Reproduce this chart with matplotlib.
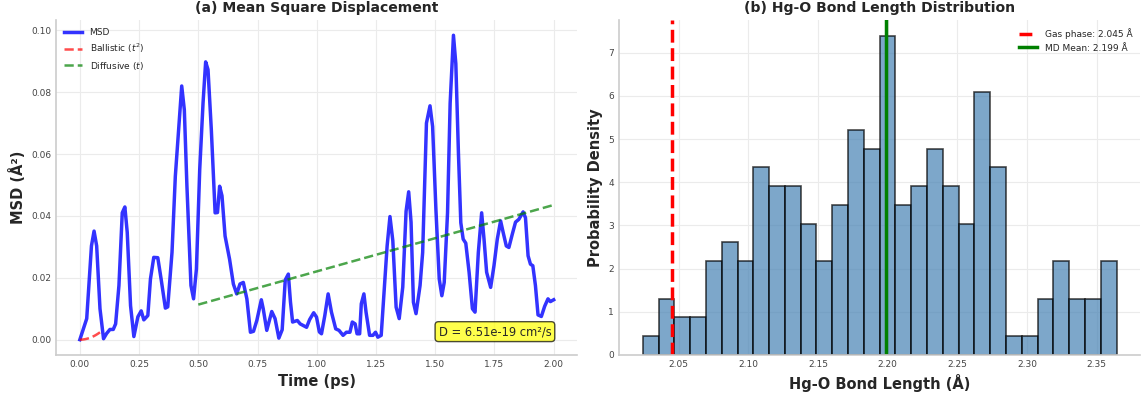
import numpy as np
import matplotlib
matplotlib.use("Agg")
import matplotlib.pyplot as plt

# MSD trace (time in ps, MSD in A^2)
time_ps = [0.000, 0.029, 0.049, 0.060, 0.071, 0.085, 0.100, 0.113, 0.127, 0.141,
           0.151, 0.165, 0.179, 0.190, 0.200, 0.214, 0.228, 0.245, 0.259, 0.270,
           0.287, 0.298, 0.312, 0.329, 0.343, 0.361, 0.371, 0.389, 0.403, 0.417,
           0.430, 0.441, 0.452, 0.469, 0.480, 0.492, 0.506, 0.520, 0.531, 0.541,
           0.555, 0.571, 0.581, 0.590, 0.600, 0.613, 0.632, 0.648, 0.662, 0.676,
           0.690, 0.705, 0.720, 0.733, 0.747, 0.766, 0.774, 0.789, 0.810, 0.824,
           0.840, 0.854, 0.867, 0.880, 0.889, 0.898, 0.918, 0.930, 0.957, 0.970,
           0.987, 0.999, 1.011, 1.020, 1.034, 1.048, 1.062, 1.080, 1.094, 1.111,
           1.125, 1.140, 1.150, 1.162, 1.170, 1.181, 1.188, 1.199, 1.208, 1.223,
           1.237, 1.248, 1.258, 1.272, 1.286, 1.297, 1.309, 1.321, 1.335, 1.348,
           1.363, 1.377, 1.388, 1.398, 1.408, 1.419, 1.436, 1.447, 1.463, 1.478,
           1.489, 1.503, 1.517, 1.528, 1.538, 1.552, 1.563, 1.577, 1.587, 1.598,
           1.608, 1.618, 1.629, 1.643, 1.657, 1.668, 1.682, 1.696, 1.706, 1.717,
           1.734, 1.748, 1.762, 1.776, 1.787, 1.800, 1.811, 1.825, 1.839, 1.853,
           1.871, 1.881, 1.892, 1.902, 1.912, 1.923, 1.934, 1.948, 1.962, 1.976,
           1.986, 2.000]
msd = [0.0000, 0.0068, 0.0303, 0.0351, 0.0303, 0.0100, 0.0003, 0.0020, 0.0033, 0.0033,
       0.0051, 0.0175, 0.0410, 0.0429, 0.0347, 0.0110, 0.0010, 0.0074, 0.0093, 0.0064,
       0.0078, 0.0196, 0.0266, 0.0265, 0.0196, 0.0102, 0.0106, 0.0282, 0.0528, 0.0678,
       0.0820, 0.0743, 0.0496, 0.0175, 0.0132, 0.0228, 0.0550, 0.0765, 0.0898, 0.0873,
       0.0678, 0.0410, 0.0411, 0.0496, 0.0465, 0.0335, 0.0260, 0.0180, 0.0148, 0.0180,
       0.0185, 0.0132, 0.0024, 0.0027, 0.0062, 0.0129, 0.0100, 0.0030, 0.0091, 0.0068,
       0.0005, 0.0032, 0.0193, 0.0212, 0.0122, 0.0057, 0.0062, 0.0051, 0.0040, 0.0065,
       0.0087, 0.0073, 0.0025, 0.0019, 0.0078, 0.0148, 0.0089, 0.0035, 0.0030, 0.0014,
       0.0024, 0.0024, 0.0057, 0.0051, 0.0019, 0.0019, 0.0116, 0.0148, 0.0089, 0.0014,
       0.0014, 0.0024, 0.0008, 0.0014, 0.0175, 0.0303, 0.0398, 0.0320, 0.0105, 0.0068,
       0.0170, 0.0415, 0.0478, 0.0380, 0.0121, 0.0084, 0.0175, 0.0282, 0.0700, 0.0756,
       0.0689, 0.0420, 0.0196, 0.0142, 0.0185, 0.0410, 0.0764, 0.0984, 0.0892, 0.0603,
       0.0378, 0.0325, 0.0312, 0.0218, 0.0100, 0.0089, 0.0282, 0.0410, 0.0325, 0.0218,
       0.0169, 0.0239, 0.0325, 0.0384, 0.0346, 0.0303, 0.0298, 0.0340, 0.0380, 0.0389,
       0.0413, 0.0394, 0.0271, 0.0244, 0.0239, 0.0175, 0.0080, 0.0075, 0.0108, 0.0132,
       0.0123, 0.0129]

# fitted regimes
ballistic_end = 0.085
ballistic_coef = 0.33
diffusive_start, diffusive_end = 0.5, 2.0
diffusive_slope = 0.02147
diffusive_offset = 0.0006
d_label = "D = 6.51e-19 cm²/s"

# bond length histogram (density per bin)
bin_lo, bin_hi = 2.0242, 2.3643
density = [0.43, 1.30, 0.87, 0.87, 2.17, 2.61, 2.17, 4.35, 3.91, 3.91,
           3.04, 2.17, 3.48, 5.22, 4.78, 7.39, 3.48, 3.91, 4.78, 3.91,
           3.04, 6.09, 4.35, 0.43, 0.43, 1.30, 2.17, 1.30, 1.30, 2.17]
gas_phase = 2.045
md_mean = 2.199

plt.rcParams.update({
    "font.family": "DejaVu Sans",
    "axes.edgecolor": "#cccccc",
    "axes.linewidth": 1.2,
    "axes.labelcolor": "#262626",
    "xtick.color": "#444444",
    "ytick.color": "#444444",
    "xtick.labelsize": 6.5,
    "ytick.labelsize": 6.5,
    "xtick.major.size": 0,
    "ytick.major.size": 0,
    "text.color": "#262626",
})

fig, (ax1, ax2) = plt.subplots(1, 2, figsize=(11.46, 4.01), dpi=100)
fig.subplots_adjust(left=0.049, right=0.995, bottom=0.115, top=0.95, wspace=0.08)

for ax in (ax1, ax2):
    ax.spines["top"].set_visible(False)
    ax.spines["right"].set_visible(False)
    ax.grid(True, color="#ebebeb", linewidth=0.8)
    ax.set_axisbelow(True)

# (a) MSD
ax1.plot(time_ps, msd, color="blue", alpha=0.8, lw=2.5, label="MSD")
tb = np.linspace(0, ballistic_end, 20)
ax1.plot(tb, ballistic_coef * tb ** 2, "r--", alpha=0.7, lw=1.8, label="Ballistic ($t^2$)")
td = np.array([diffusive_start, diffusive_end])
ax1.plot(td, diffusive_slope * td + diffusive_offset, "g--", alpha=0.7, lw=1.8,
         label="Diffusive ($t$)")
ax1.set_xlabel("Time (ps)", fontsize=10.5, fontweight="bold")
ax1.set_ylabel("MSD (Å²)", fontsize=10.5, fontweight="bold")
ax1.set_title("(a) Mean Square Displacement", fontsize=10.1, fontweight="bold")
ax1.legend(loc="upper left", frameon=False, fontsize=6.5)
ax1.text(0.95, 0.05, d_label, transform=ax1.transAxes, ha="right", va="bottom",
         fontsize=8.3, bbox=dict(boxstyle="round", facecolor="yellow", alpha=0.7))

# (b) bond length distribution
edges = np.linspace(bin_lo, bin_hi, len(density) + 1)
ax2.bar(edges[:-1], density, width=np.diff(edges), align="edge",
        color="steelblue", alpha=0.7, edgecolor="black", linewidth=1.2)
ax2.axvline(gas_phase, color="red", ls="--", lw=2.5, label=f"Gas phase: {gas_phase:.3f} Å")
ax2.axvline(md_mean, color="green", ls="-", lw=2.5, label=f"MD Mean: {md_mean:.3f} Å")
ax2.set_xlabel("Hg-O Bond Length (Å)", fontsize=10.5, fontweight="bold")
ax2.set_ylabel("Probability Density", fontsize=10.5, fontweight="bold")
ax2.set_title("(b) Hg-O Bond Length Distribution", fontsize=10.1, fontweight="bold")
ax2.legend(loc="upper right", frameon=False, fontsize=6.5)

fig.savefig("out.png", dpi=100)
